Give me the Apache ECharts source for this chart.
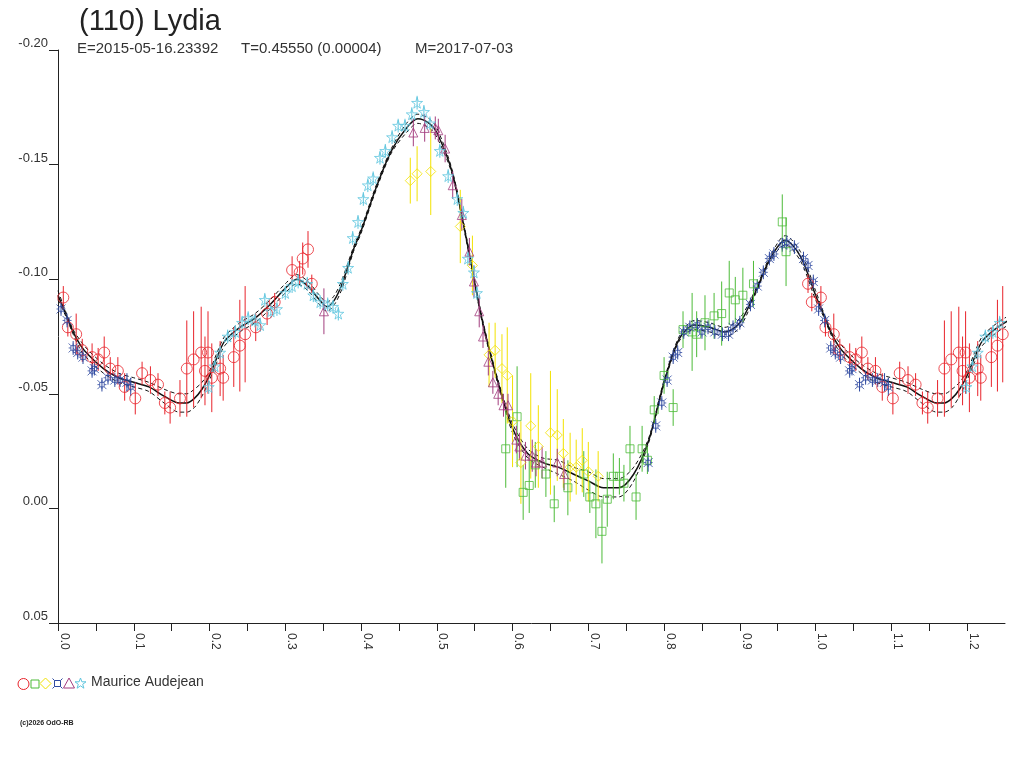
<!DOCTYPE html>
<html>
<head>
<meta charset="utf-8">
<script src="https://cdn.jsdelivr.net/npm/echarts@6/dist/echarts.min.js"></script>
<style>
html, body { margin: 0; padding: 0; background: #fff; }
#chart { width: 1024px; height: 768px; }
</style>
</head>
<body>
<div id="chart"></div>
<script>
var dom = document.getElementById("chart");
var myChart = echarts.init(dom);

// observations: [phase, mag, err]
var redCircles = [[0.007,-0.092,0.005],[0.013,-0.079,0.004],[0.024,-0.076,0.009],[0.032,-0.069,0.005],[0.045,-0.066,0.006],
    [0.053,-0.065,0.005],[0.061,-0.068,0.007],[0.069,-0.061,0.005],[0.079,-0.060,0.006],[0.088,-0.053,0.006],
    [0.102,-0.048,0.007],[0.111,-0.059,0.005],[0.122,-0.056,0.006],[0.132,-0.054,0.005],[0.141,-0.046,0.005],
    [0.148,-0.044,0.007],[0.161,-0.048,0.008],[0.170,-0.061,0.021],[0.179,-0.065,0.021],[0.189,-0.068,0.020],
    [0.198,-0.068,0.018],[0.194,-0.060,0.015],[0.203,-0.057,0.015],[0.214,-0.061,0.012],[0.218,-0.057,0.010],
    [0.232,-0.066,0.013],[0.240,-0.071,0.020],[0.247,-0.076,0.021],[0.261,-0.079,0.006],[0.276,-0.085,0.005],
    [0.286,-0.090,0.004],[0.309,-0.104,0.006],[0.319,-0.103,0.005],[0.323,-0.109,0.007],[0.330,-0.113,0.008],
    [0.335,-0.098,0.004],[0.990,-0.098,0.004],[0.995,-0.090,0.004]];

var greenSquares = [[0.591,-0.026,0.017],[0.606,-0.040,0.022],[0.614,-0.007,0.012],[0.622,-0.010,0.012],[0.630,-0.019,0.010],
    [0.644,-0.015,0.010],[0.655,-0.002,0.008],[0.673,-0.009,0.012],[0.694,-0.015,0.010],[0.702,-0.005,0.007],
    [0.710,-0.002,0.015],[0.718,0.010,0.014],[0.725,-0.004,0.012],[0.733,-0.014,0.010],[0.741,-0.014,0.008],
    [0.747,-0.011,0.008],[0.755,-0.026,0.010],[0.763,-0.005,0.010],[0.771,-0.026,0.010],[0.778,-0.021,0.006],
    [0.787,-0.043,0.006],[0.800,-0.058,0.008],[0.812,-0.044,0.008],[0.825,-0.078,0.008],[0.837,-0.077,0.017],
    [0.843,-0.076,0.010],[0.854,-0.081,0.012],[0.866,-0.084,0.010],[0.876,-0.085,0.014],[0.886,-0.094,0.014],
    [0.894,-0.091,0.010],[0.904,-0.093,0.012],[0.918,-0.098,0.010],[0.956,-0.125,0.012],[0.961,-0.112,0.015]];

var yellowDiamonds = [[0.465,-0.143,0.010],[0.474,-0.146,0.012],[0.492,-0.147,0.019],[0.531,-0.123,0.016],[0.547,-0.106,0.013],
    [0.569,-0.067,0.014],[0.577,-0.069,0.012],[0.586,-0.061,0.015],[0.593,-0.058,0.021],[0.600,-0.038,0.020],
    [0.611,-0.020,0.018],[0.624,-0.036,0.023],[0.634,-0.027,0.018],[0.650,-0.033,0.027],[0.659,-0.032,0.020],
    [0.667,-0.024,0.015],[0.676,-0.018,0.015],[0.684,-0.018,0.012],[0.692,-0.021,0.014],[0.700,-0.016,0.013],
    [0.713,-0.014,0.011]];

var blueCrosses = [[0.004,-0.087,0.003],[0.012,-0.082,0.003],[0.020,-0.070,0.003],[0.026,-0.068,0.003],[0.033,-0.066,0.003],
    [0.045,-0.060,0.003],[0.048,-0.061,0.003],[0.058,-0.054,0.003],[0.066,-0.057,0.003],[0.075,-0.056,0.003],
    [0.082,-0.056,0.003],[0.091,-0.055,0.004],[0.096,-0.053,0.004],[0.779,-0.020,0.004],[0.789,-0.036,0.003],
    [0.797,-0.046,0.003],[0.804,-0.056,0.003],[0.812,-0.066,0.003],[0.818,-0.068,0.003],[0.826,-0.077,0.003],
    [0.834,-0.079,0.003],[0.844,-0.080,0.003],[0.850,-0.077,0.003],[0.858,-0.079,0.003],[0.867,-0.077,0.003],
    [0.877,-0.076,0.003],[0.885,-0.076,0.003],[0.891,-0.079,0.003],[0.900,-0.081,0.003],[0.914,-0.089,0.003],
    [0.923,-0.097,0.003],[0.931,-0.103,0.003],[0.939,-0.109,0.003],[0.945,-0.111,0.003],[0.956,-0.115,0.003],
    [0.962,-0.116,0.003],[0.972,-0.114,0.003],[0.984,-0.109,0.003],[0.990,-0.106,0.003],[0.997,-0.099,0.003]];

var magentaTriangles = [[0.351,-0.086,0.010],[0.469,-0.164,0.006],[0.484,-0.166,0.006],[0.498,-0.166,0.005],[0.502,-0.165,0.005],
    [0.511,-0.157,0.006],[0.521,-0.141,0.006],[0.533,-0.128,0.007],[0.543,-0.112,0.006],[0.549,-0.099,0.007],
    [0.556,-0.086,0.007],[0.561,-0.075,0.005],[0.568,-0.064,0.006],[0.574,-0.055,0.005],[0.581,-0.050,0.005],
    [0.588,-0.045,0.005],[0.594,-0.045,0.005],[0.605,-0.030,0.006],[0.609,-0.027,0.006],[0.617,-0.023,0.006],
    [0.626,-0.023,0.007],[0.631,-0.020,0.006],[0.639,-0.020,0.007],[0.659,-0.020,0.006],[0.668,-0.015,0.007]];

var cyanStars = [[0.199,-0.053,0.003],[0.207,-0.062,0.003],[0.214,-0.068,0.003],[0.224,-0.075,0.003],[0.234,-0.077,0.003],
    [0.243,-0.081,0.003],[0.251,-0.083,0.003],[0.260,-0.082,0.003],[0.267,-0.080,0.003],[0.273,-0.091,0.003],
    [0.281,-0.086,0.003],[0.289,-0.087,0.003],[0.300,-0.094,0.003],[0.309,-0.097,0.003],[0.317,-0.099,0.003],
    [0.329,-0.098,0.003],[0.337,-0.093,0.003],[0.346,-0.090,0.003],[0.356,-0.089,0.003],[0.363,-0.088,0.003],
    [0.370,-0.085,0.003],[0.376,-0.098,0.003],[0.383,-0.105,0.003],[0.389,-0.118,0.003],[0.396,-0.125,0.003],
    [0.403,-0.135,0.003],[0.409,-0.141,0.003],[0.416,-0.144,0.003],[0.425,-0.153,0.003],[0.432,-0.156,0.003],
    [0.441,-0.162,0.003],[0.449,-0.167,0.003],[0.458,-0.167,0.003],[0.467,-0.172,0.003],[0.474,-0.177,0.003],
    [0.483,-0.173,0.003],[0.491,-0.168,0.003],[0.504,-0.156,0.003],[0.515,-0.145,0.003],[0.527,-0.135,0.003],
    [0.535,-0.129,0.003],[0.541,-0.109,0.003],[0.549,-0.103,0.003],[0.553,-0.094,0.003]];

// model light curve
var modelPhase  = [0.00,0.01,0.02,0.03,0.04,0.06,0.08,0.10,0.12,0.14,0.16,0.17,0.18,0.19,0.20,0.21,0.22,0.24,0.26,0.28,
    0.30,0.315,0.33,0.345,0.355,0.365,0.375,0.39,0.40,0.42,0.44,0.46,0.475,0.49,0.50,0.52,0.54,0.56,0.58,0.60,
    0.62,0.64,0.66,0.68,0.70,0.72,0.74,0.76,0.78,0.80,0.82,0.84,0.86,0.88,0.90,0.92,0.94,0.96,0.98,1.00];
var modelMag    = [-0.093,-0.085,-0.077,-0.071,-0.067,-0.061,-0.057,-0.055,-0.053,-0.049,-0.046,-0.046,-0.048,-0.052,-0.058,-0.066,-0.073,-0.079,-0.083,-0.089,
    -0.096,-0.100,-0.097,-0.091,-0.088,-0.091,-0.098,-0.113,-0.121,-0.140,-0.156,-0.166,-0.170,-0.168,-0.164,-0.147,-0.116,-0.082,-0.056,-0.035,
    -0.024,-0.020,-0.018,-0.015,-0.012,-0.009,-0.009,-0.015,-0.030,-0.055,-0.074,-0.080,-0.079,-0.077,-0.081,-0.094,-0.109,-0.117,-0.110,-0.093];
var modelSpread = [0.002,0.001,0.001,0.002,0.002,0.002,0.002,0.002,0.002,0.003,0.004,0.004,0.004,0.003,0.002,0.002,0.002,0.002,0.002,0.002,
    0.002,0.002,0.002,0.002,0.002,0.002,0.002,0.001,0.001,0.001,0.001,0.002,0.002,0.002,0.002,0.001,0.001,0.001,0.001,0.002,
    0.002,0.002,0.003,0.003,0.004,0.004,0.004,0.003,0.001,0.001,0.001,0.002,0.002,0.002,0.002,0.001,0.001,0.002,0.002,0.002];

var xTicks = ['0.0','0.1','0.2','0.3','0.4','0.5','0.6','0.7','0.8','0.9','1.0','1.1','1.2'];

var colRed = '#e8232b', colGreen = '#4cbb38', colYellow = '#f2e200', colBlue = '#2f4aa0',
    colMagenta = '#a33d7e', colCyan = '#5ec5de';

var starPath = 'path://M50,0L61,35L98,35L68,57L79,91L50,70L21,91L32,57L2,35L39,35Z';
var crossPath = 'path://M3,3L9,3L9,9L3,9ZM0,0L3,3M12,0L9,3M0,12L3,9M12,12L9,9M6,0L6,3M6,9L6,12M0,6L3,6M9,6L12,6';

// phase plot runs to 1.25, so points repeat one cycle later
function wrap(pts) {
    var out = pts.slice();
    for (var i = 0; i < pts.length; i++) {
        if (pts[i][0] + 1 <= 1.25) out.push([pts[i][0] + 1, pts[i][1], pts[i][2]]);
    }
    return out;
}

function curve(sign) {
    var d = [];
    for (var k = 0; k <= 1; k++) {
        for (var i = 0; i < modelPhase.length; i++) {
            var p = modelPhase[i] + k;
            if (k === 1 && (i === 0 || p > 1.26)) continue;
            d.push([p, modelMag[i] + sign * modelSpread[i]]);
        }
    }
    return d;
}

function errorBars(pts, color) {
    return {
        type: 'custom',
        clip: true,
        silent: true,
        z: 2,
        encode: {x: 0, y: 1},
        renderItem: function (params, api) {
            var x = api.value(0), m = api.value(1), e = api.value(2);
            var a = api.coord([x, m - e]);
            var b = api.coord([x, m + e]);
            return {
                type: 'line',
                shape: {x1: a[0], y1: a[1], x2: b[0], y2: b[1]},
                style: {stroke: color, lineWidth: 1}
            };
        },
        data: wrap(pts)
    };
}

function points(pts, color, symbol, size) {
    return {
        type: 'scatter',
        symbol: symbol,
        symbolSize: size,
        z: 3,
        itemStyle: {color: 'rgba(255,255,255,0)', borderColor: color, borderWidth: 1},
        data: wrap(pts).map(function (p) { return [p[0], p[1]]; })
    };
}

var lineFont = 'Liberation Sans, Arial, sans-serif';
var subStyle = {fontFamily: lineFont, fontSize: 15, fill: '#333'};

option = {
    backgroundColor: '#fff',
    animation: false,
    title: {
        text: '(110) Lydia',
        left: 74, top: 2,
        textStyle: {fontFamily: lineFont, fontSize: 29, fontWeight: 'normal', color: '#222'}
    },
    grid: {left: 58, right: 19, top: 50, bottom: 145},
    xAxis: {
        type: 'value',
        min: 0, max: 1.25, interval: 0.05,
        splitLine: {show: false},
        axisLine: {onZero: false, lineStyle: {color: '#222', width: 1}},
        axisTick: {length: 8, lineStyle: {color: '#222'}},
        axisLabel: {
            rotate: -90,
            margin: 10,
            verticalAlign: 'bottom',
            color: '#333',
            fontFamily: lineFont,
            fontSize: 12,
            showMaxLabel: false,
            formatter: function (v) {
                var k = Math.round(v * 20);
                return k % 2 === 0 ? xTicks[k / 2] : '';
            }
        }
    },
    yAxis: {
        type: 'value',
        inverse: true,
        min: -0.20, max: 0.05, interval: 0.05,
        splitLine: {show: false},
        axisLine: {show: true, onZero: false, lineStyle: {color: '#222', width: 1}},
        axisTick: {show: true, length: 9, lineStyle: {color: '#222'}},
        axisLabel: {
            margin: 10,
            verticalAlign: 'bottom',
            color: '#333',
            fontFamily: lineFont,
            fontSize: 13,
            formatter: function (v) { return v.toFixed(2); }
        }
    },
    graphic: [
        {type: 'text', left: 77, top: 41, style: echarts.util.extend({text: 'E=2015-05-16.23392'}, subStyle)},
        {type: 'text', left: 241, top: 41, style: echarts.util.extend({text: 'T=0.45550 (0.00004)'}, subStyle)},
        {type: 'text', left: 415, top: 41, style: echarts.util.extend({text: 'M=2017-07-03'}, subStyle)},
        {type: 'circle', shape: {cx: 23.5, cy: 684, r: 5.5}, style: {fill: 'none', stroke: colRed, lineWidth: 1}},
        {type: 'rect', shape: {x: 31, y: 680, width: 8, height: 8}, style: {fill: 'none', stroke: colGreen, lineWidth: 1}},
        {type: 'polygon', shape: {points: [[45.5, 678], [51, 683.5], [45.5, 689], [40, 683.5]]}, style: {fill: 'none', stroke: colYellow, lineWidth: 1}},
        {type: 'rect', shape: {x: 54.5, y: 680.5, width: 6, height: 6}, style: {fill: 'none', stroke: colBlue, lineWidth: 1}},
        {type: 'polyline', shape: {points: [[52.5, 678.5], [54.5, 680.5]]}, style: {stroke: colBlue, lineWidth: 1}},
        {type: 'polyline', shape: {points: [[62.5, 678.5], [60.5, 680.5]]}, style: {stroke: colBlue, lineWidth: 1}},
        {type: 'polyline', shape: {points: [[52.5, 688.5], [54.5, 686.5]]}, style: {stroke: colBlue, lineWidth: 1}},
        {type: 'polyline', shape: {points: [[62.5, 688.5], [60.5, 686.5]]}, style: {stroke: colBlue, lineWidth: 1}},
        {type: 'polygon', shape: {points: [[69, 678], [74.5, 688], [63.5, 688]]}, style: {fill: 'none', stroke: colMagenta, lineWidth: 1}},
        {type: 'polygon', shape: {points: [[80.5, 678], [81.9, 681.8], [86, 681.8], [82.7, 684.3], [83.9, 688.2], [80.5, 685.8], [77.1, 688.2], [78.3, 684.3], [75, 681.8], [79.1, 681.8]]},
            style: {fill: 'none', stroke: colCyan, lineWidth: 1}},
        {type: 'text', left: 91, top: 675, style: {text: 'Maurice Audejean', fontFamily: lineFont, fontSize: 14, fill: '#333'}},
        {type: 'text', left: 20, top: 720, style: {text: '(c)2026 OdO-RB', fontFamily: lineFont, fontSize: 7, fill: '#222', fontWeight: 'bold'}}
    ],
    series: [
        {type: 'line', data: curve(0), showSymbol: false, smooth: 0.3, z: 1,
            lineStyle: {color: '#111', width: 1.5}},
        {type: 'line', data: curve(-1), showSymbol: false, smooth: 0.3, z: 1,
            lineStyle: {color: '#111', width: 1, type: [4, 3]}},
        {type: 'line', data: curve(1), showSymbol: false, smooth: 0.3, z: 1,
            lineStyle: {color: '#111', width: 1, type: [4, 3]}},
        errorBars(redCircles, colRed),
        errorBars(greenSquares, colGreen),
        errorBars(yellowDiamonds, colYellow),
        errorBars(blueCrosses, colBlue),
        errorBars(magentaTriangles, colMagenta),
        errorBars(cyanStars, colCyan),
        points(redCircles, colRed, 'circle', 11),
        points(greenSquares, colGreen, 'rect', 8),
        points(yellowDiamonds, colYellow, 'diamond', 10),
        points(blueCrosses, colBlue, crossPath, 9),
        points(magentaTriangles, colMagenta, 'triangle', 9),
        points(cyanStars, colCyan, starPath, 11)
    ]
};

if (option && typeof option === "object") {
    myChart.setOption(option, true);
}
</script>
</body>
</html>
